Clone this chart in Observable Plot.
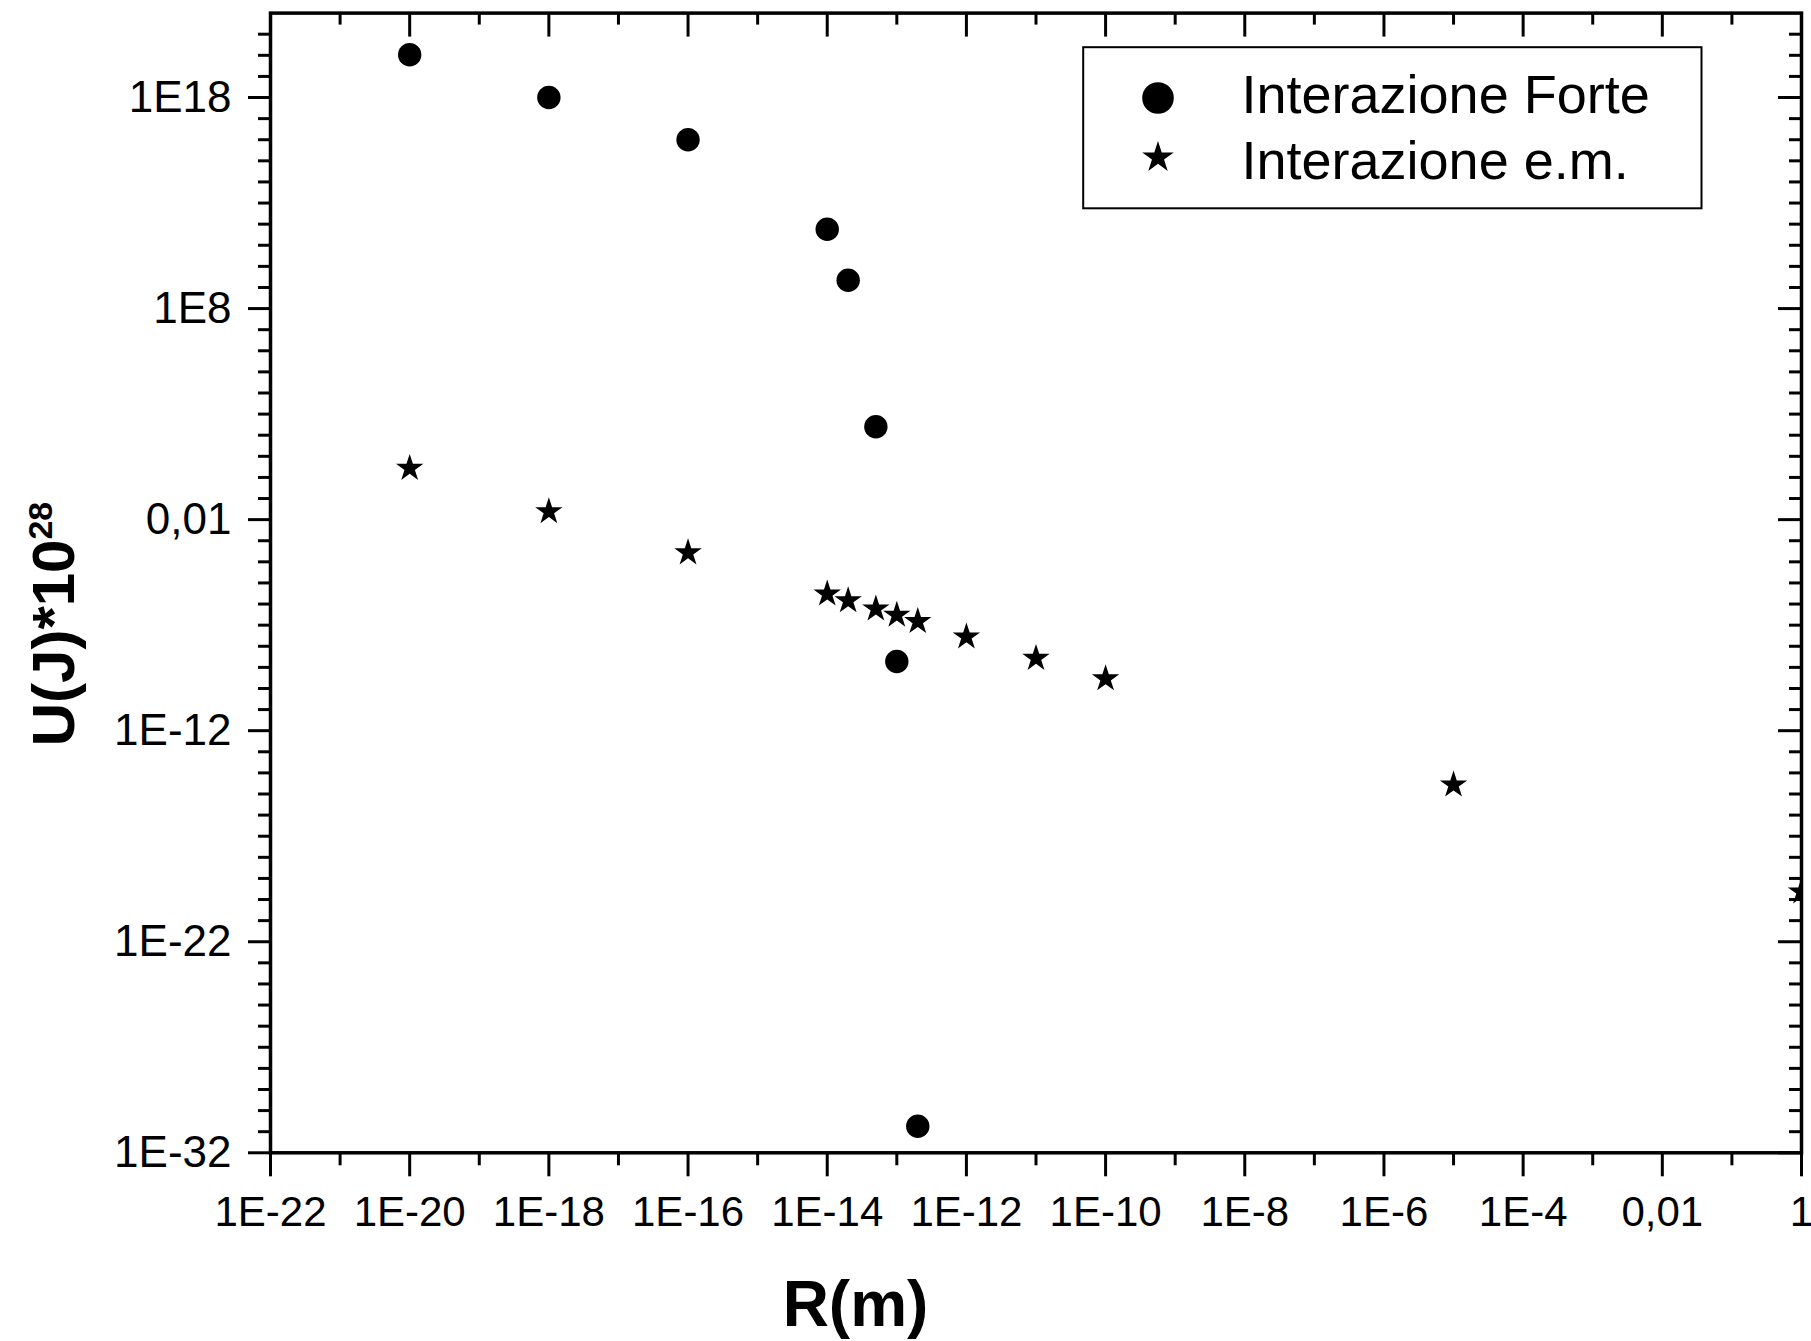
<!DOCTYPE html>
<html>
<head>
<meta charset="utf-8">
<script src="https://cdn.jsdelivr.net/npm/d3@7"></script>
<script src="https://cdn.jsdelivr.net/npm/@observablehq/plot@0.6"></script>
<style>
  html, body { margin: 0; padding: 0; background: #ffffff; }
</style>
</head>
<body>
<div id="chart"></div>
<script>
// ---- data ----
const seriesNames = ["Interazione Forte", "Interazione e.m."];

const forteR = [1e-20, 1e-18, 1e-16, 1e-14, 2e-14, 5e-14, 1e-13, 2e-13];
const forteU = [1.07e20, 1e18, 1e16, 5.7e11, 2.2e9, 2.5e2, 1.9e-9, 1.8e-31];

const emR = [1e-20, 1e-18, 1e-16, 1e-14, 2e-14, 5e-14, 1e-13, 2e-13, 1e-12, 1e-11, 1e-10, 1e-5, 1];
const emU = [2.7, 0.024, 2.7e-4, 3e-6, 1.45e-6, 5.9e-7, 3e-7, 1.5e-7, 2.8e-8, 2.7e-9, 2.9e-10, 2.7e-15, 2.3e-20];

const xMajorTicks = [1e-22, 1e-20, 1e-18, 1e-16, 1e-14, 1e-12, 1e-10, 1e-8, 1e-6, 1e-4, 1e-2, 1];
const xTickLabels = ["1E-22", "1E-20", "1E-18", "1E-16", "1E-14", "1E-12", "1E-10", "1E-8", "1E-6", "1E-4", "0,01", "1"];
const xMinorTicks = [1e-21, 1e-19, 1e-17, 1e-15, 1e-13, 1e-11, 1e-9, 1e-7, 1e-5, 1e-3, 1e-1];

const yMajorTicks = [1e-32, 1e-22, 1e-12, 1e-2, 1e8, 1e18];
const yTickLabels = ["1E-32", "1E-22", "1E-12", "0,01", "1E8", "1E18"];
const yMinorTicks = d3.range(-31, 22).map(e => Math.pow(10, e)).filter(v => !yMajorTicks.some(m => Math.abs(Math.log10(m) - Math.log10(v)) < 1e-9));

const xTitle = "R(m)";
const yTitle = "U(J)*10";
const yTitleSup = "28";

// ---- tables built from the arrays ----
const forte = forteR.map((r, i) => ({r, u: forteU[i]}));
const em = emR.map((r, i) => ({r, u: emU[i]}));
const xLabelMap = new Map(xMajorTicks.map((v, i) => [v, xTickLabels[i]]));
const yLabelMap = new Map(yMajorTicks.map((v, i) => [v, yTickLabels[i]]));

// ---- layout ----
const W = 1811, H = 1341;
const mL = 270, mR = 10, mT = 12.6, mB = 188.7;
const plotW = W - mL - mR, plotH = H - mT - mB;

const chart = Plot.plot({
  width: W,
  height: H,
  marginLeft: mL,
  marginRight: mR,
  marginTop: mT,
  marginBottom: mB,
  style: {fontFamily: "Arial, 'Liberation Sans', sans-serif", color: "#000", background: "#fff"},
  x: {type: "log", domain: [1e-22, 1], label: null},
  y: {type: "log", domain: [1e-32, 1e22], label: null},
  marks: [
    // data
    Plot.dot(forte, {x: "r", y: "u", symbol: "circle", r: 11.7, fill: "#000", stroke: null, clip: true}),
    Plot.dot(em, {x: "r", y: "u", symbol: "star", r: 8.6, fill: "#000", stroke: null, clip: true}),

    // bottom axis (outward)
    Plot.axisX(xMajorTicks, {anchor: "bottom", tickSize: 24, tickPadding: 19, strokeWidth: 3,
      tickFormat: d => xLabelMap.get(d), fontSize: 42, label: null}),
    Plot.axisX(xMinorTicks, {anchor: "bottom", tickSize: 13, strokeWidth: 3, tickFormat: () => "", label: null}),
    // left axis (outward)
    Plot.axisY(yMajorTicks, {anchor: "left", tickSize: 22, tickPadding: 17, strokeWidth: 3,
      tickFormat: d => yLabelMap.get(d), fontSize: 44, label: null}),
    Plot.axisY(yMinorTicks, {anchor: "left", tickSize: 12, strokeWidth: 3, tickFormat: () => "", label: null}),
    // top axis (inward ticks)
    Plot.tickX(xMajorTicks, {x: d => d, insetBottom: plotH - 24, strokeWidth: 3, stroke: "#000"}),
    Plot.tickX(xMinorTicks, {x: d => d, insetBottom: plotH - 12, strokeWidth: 3, stroke: "#000"}),
    // right axis (inward ticks)
    Plot.tickY(yMajorTicks, {y: d => d, insetLeft: plotW - 23, strokeWidth: 3, stroke: "#000"}),
    Plot.tickY(yMinorTicks, {y: d => d, insetLeft: plotW - 12, strokeWidth: 3, stroke: "#000"}),

    // frame
    Plot.frame({stroke: "#000", strokeWidth: 3.5}),

    // legend box
    Plot.frame({fill: "#fff", stroke: "#000", strokeWidth: 2,
      insetLeft: 1082.7 - mL, insetTop: 46.7 - mT, insetRight: (W - mR) - 1701, insetBottom: (H - mB) - 207.8}),
    Plot.dot([seriesNames[0]], {frameAnchor: "top-left", dx: 1157.5 - mL, dy: 97.5 - mT, symbol: "circle", r: 15.8, fill: "#000", stroke: null}),
    Plot.dot([seriesNames[1]], {frameAnchor: "top-left", dx: 1157.5 - mL, dy: 157 - mT, symbol: "star", r: 9.9, fill: "#000", stroke: null}),
    Plot.text([seriesNames[0]], {text: d => d, frameAnchor: "top-left", dx: 1241 - mL, dy: 112 - mT,
      textAnchor: "start", lineAnchor: "bottom", fontSize: 54, fill: "#000"}),
    Plot.text([seriesNames[1]], {text: d => d, frameAnchor: "top-left", dx: 1241 - mL, dy: 178 - mT,
      textAnchor: "start", lineAnchor: "bottom", fontSize: 54, fill: "#000"}),

    // x title
    Plot.text([xTitle], {text: d => d, frameAnchor: "bottom-left", dx: 855 - mL, dy: 1325 - (H - mB),
      textAnchor: "middle", lineAnchor: "bottom", fontSize: 64, fontWeight: "bold", fill: "#000"})
  ]
});

// y title with superscript
const yt = d3.select(chart).append("text")
  .attr("transform", "translate(74,624) rotate(-90)")
  .attr("text-anchor", "middle")
  .attr("font-size", 60)
  .attr("font-weight", "bold")
  .attr("fill", "#000");
yt.append("tspan").text(yTitle);
yt.append("tspan").attr("dy", -22).attr("font-size", 34).text(yTitleSup);

document.getElementById("chart").appendChild(chart);
</script>
</body>
</html>
